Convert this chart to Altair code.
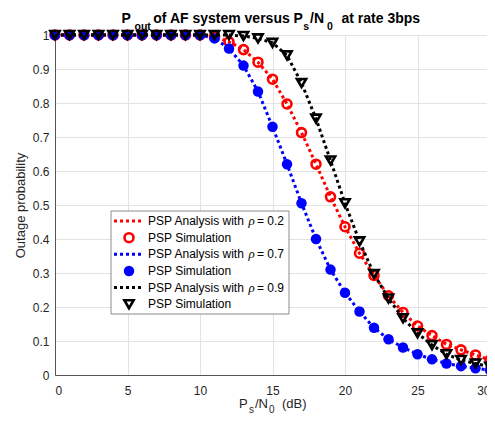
import altair as alt
import pandas as pd

# ---------------- data ----------------
snr_db = list(range(0, 31))
pout_rho02 = [1, 1, 1, 1, 1, 1, 1, 1, 1, 1, 1,
              0.995, 0.98, 0.957, 0.92, 0.87, 0.797, 0.713, 0.62, 0.524, 0.436,
              0.358, 0.293, 0.233, 0.184, 0.144, 0.116, 0.09, 0.074, 0.059, 0.044]
pout_rho07 = [1, 1, 1, 1, 1, 1, 1, 1, 1, 1, 1,
              0.99, 0.96, 0.91, 0.834, 0.73, 0.62, 0.505, 0.40, 0.31, 0.242,
              0.187, 0.139, 0.105, 0.081, 0.061, 0.046, 0.034, 0.026, 0.02, 0.014]
pout_rho09 = [1, 1, 1, 1, 1, 1, 1, 1, 1, 1, 1, 1, 1,
              0.997, 0.99, 0.977, 0.94, 0.859, 0.754, 0.631, 0.505,
              0.393, 0.297, 0.225, 0.167, 0.123, 0.088, 0.061, 0.044, 0.034, 0.024]
rho_values = ["0.2", "0.7", "0.9"]
series_colors = ["#ff0000", "#0000ff", "#000000"]
x_ticks = [0, 5, 10, 15, 20, 25, 30]
y_ticks = [0, 0.1, 0.2, 0.3, 0.4, 0.5, 0.6, 0.7, 0.8, 0.9, 1]
legend_labels = ["PSP Analysis with", "PSP Simulation"]

FONT = "Liberation Sans"
W, H = 435, 340

xenc = alt.X("snr:Q", scale=alt.Scale(domain=[0, 30], nice=False),
             axis=alt.Axis(values=x_ticks, title=None, labelPadding=10, grid=True))
yenc = alt.Y("pout:Q", scale=alt.Scale(domain=[0, 1], nice=False),
             axis=alt.Axis(values=y_ticks, format=".1~f", labelPadding=6, grid=True,
                           title="Outage probability", titleFont=FONT, titleFontSize=13,
                           titleFontWeight="normal", titleColor="#262626",
                           titleX=-35, titleY=H / 2, titleAngle=270,
                           titleAlign="center", titleBaseline="middle"))

series = [pout_rho02, pout_rho07, pout_rho09]
layers = []
for i, vals in enumerate(series):
    df = pd.DataFrame({"snr": snr_db, "pout": vals})
    col = series_colors[i]
    line = alt.Chart(df).mark_line(color=col, strokeWidth=3, strokeDash=[3, 3],
                                   strokeCap="butt").encode(x=xenc, y=yenc)
    if i == 0:
        pts = alt.Chart(df).mark_point(shape="circle", filled=False, size=80,
                                       strokeWidth=2.6, color=col, opacity=1)
    elif i == 1:
        pts = alt.Chart(df).mark_point(shape="circle", filled=True, size=110,
                                       color=col, opacity=1, strokeWidth=0)
    else:
        pts = alt.Chart(df).mark_point(shape="triangle-down", filled=False, size=85,
                                       strokeWidth=2.6, color=col, opacity=1)
    layers += [line, pts.encode(x=xenc, y=yenc)]

one = pd.DataFrame({"k": [0]})

# ---------------- legend ----------------
layers.append(alt.Chart(one).mark_rect(fill="white", stroke="#8c8c8c", strokeWidth=1).encode(
    x=alt.value(56), x2=alt.value(234), y=alt.value(176), y2=alt.value(279)))
row0, drow = 186, 16.65
for i in range(3):
    col = series_colors[i]
    ya = row0 + (2 * i) * drow
    ys = row0 + (2 * i + 1) * drow
    layers.append(alt.Chart(one).mark_rule(color=col, strokeWidth=3, strokeDash=[3, 3],
                                           strokeCap="butt").encode(
        x=alt.value(59), x2=alt.value(89), y=alt.value(ya)))
    if i == 0:
        m = alt.Chart(one).mark_point(shape="circle", filled=False, size=80,
                                      strokeWidth=2.6, color=col, opacity=1)
    elif i == 1:
        m = alt.Chart(one).mark_point(shape="circle", filled=True, size=110,
                                      color=col, opacity=1, strokeWidth=0)
    else:
        m = alt.Chart(one).mark_point(shape="triangle-down", filled=False, size=85,
                                      strokeWidth=2.6, color=col, opacity=1)
    layers.append(m.encode(x=alt.value(74), y=alt.value(ys)))
    for txt, xx, yy, extra in [
        (legend_labels[0], 93, ya, {}),
        ("\u03c1", 193.5, ya, {"font": "Liberation Serif", "fontStyle": "italic", "fontSize": 13}),
        ("= " + rho_values[i], 202, ya, {}),
        (legend_labels[1], 93, ys, {}),
    ]:
        props = dict(font=FONT, fontSize=12, color="#000000", align="left", baseline="middle")
        props.update(extra)
        layers.append(alt.Chart(one).mark_text(text=txt, **props).encode(
            x=alt.value(xx), y=alt.value(yy)))

# ---------------- title with subscripts ----------------
title_parts = [
    ("P", 66.5, -12.5, 14), ("out", 79.5, -5, 10.5),
    ("of AF system versus P", 98.3, -12.5, 14), ("s", 248.3, -5, 10.5),
    ("/N", 255, -12.5, 14), ("0", 272, -5, 10.5),
    ("at rate 3bps", 286.5, -12.5, 14),
]
for txt, xx, yy, fs in title_parts:
    layers.append(alt.Chart(one).mark_text(text=txt, font=FONT, fontSize=fs, fontWeight="bold",
                                           color="#000000", align="left",
                                           baseline="alphabetic").encode(
        x=alt.value(xx), y=alt.value(yy)))

# ---------------- x-axis title with subscripts ----------------
xt_parts = [
    ("P", 184, 373, 13), ("s", 194, 377.5, 10), ("/N", 200, 373, 13),
    ("0", 214, 377.5, 10), ("(dB)", 227, 373, 13),
]
for txt, xx, yy, fs in xt_parts:
    layers.append(alt.Chart(one).mark_text(text=txt, font=FONT, fontSize=fs,
                                           color="#262626", align="left",
                                           baseline="alphabetic").encode(
        x=alt.value(xx), y=alt.value(yy)))

chart = alt.layer(*layers).properties(
    width=W, height=H,
    autosize=alt.AutoSizeParams(type="none"),
    padding={"left": 47, "top": 27, "right": -3, "bottom": 41},
    background="white",
).configure_view(
    stroke="#555555", strokeWidth=1
).configure_axis(
    labelFont=FONT, labelFontSize=12, labelColor="#262626",
    domainColor="#555555", domainWidth=1, ticks=False,
    gridColor="#e3e3e3", gridWidth=1,
)

chart.save("out.html", embed_options={"renderer": "svg", "actions": False})
